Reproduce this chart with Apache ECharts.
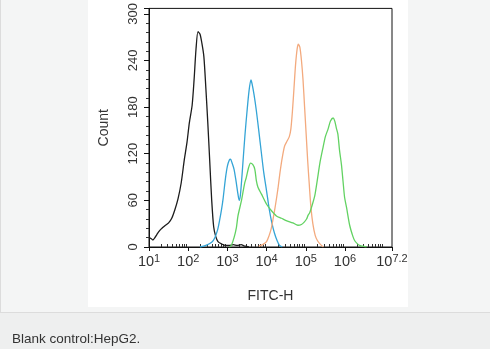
<!DOCTYPE html>
<html>
<head>
<meta charset="utf-8">
<script src="https://cdn.jsdelivr.net/npm/echarts@6/dist/echarts.min.js"></script>
<style>
html,body{margin:0;padding:0;background:#f4f5f5;}
#chart{width:490px;height:349px;}
</style>
</head>
<body>
<div id="chart"></div>
<script>
// x values are log10(FITC-H), y values are counts
const blackCurve = [[1.0,12],[1.05,11],[1.1,9],[1.15,12],[1.2,16],[1.27,21],[1.35,25],[1.42,28],[1.5,31],[1.58,37],[1.66,48],[1.74,62],[1.82,82],[1.9,112],[1.97,135],[2.03,160],[2.1,182],[2.15,215],[2.2,255],[2.25,277],[2.3,274],[2.35,262],[2.4,245],[2.45,205],[2.5,160],[2.55,110],[2.6,60],[2.65,26],[2.7,14],[2.76,7],[2.85,4],[2.95,2],[3.05,2],[3.15,3],[3.25,2],[3.35,3],[3.45,1],[3.55,0]];
const blueCurve = [[2.3,0],[2.45,2],[2.6,6],[2.68,12],[2.75,22],[2.8,34],[2.85,48],[2.89,62],[2.95,88],[3.0,104],[3.05,112],[3.08,113],[3.12,108],[3.17,100],[3.22,85],[3.27,68],[3.3,60],[3.33,66],[3.37,90],[3.4,111],[3.45,145],[3.5,174],[3.55,200],[3.6,215],[3.63,210],[3.68,196],[3.74,175],[3.8,150],[3.87,120],[3.93,95],[4.0,72],[4.07,48],[4.13,32],[4.2,18],[4.27,8],[4.33,2],[4.4,0]];
const orangeCurve = [[3.8,1],[3.9,3],[4.0,7],[4.06,14],[4.12,24],[4.18,40],[4.23,55],[4.29,75],[4.34,95],[4.4,115],[4.46,130],[4.52,136],[4.58,142],[4.62,152],[4.66,175],[4.7,205],[4.74,235],[4.78,255],[4.81,261],[4.85,257],[4.89,240],[4.93,215],[4.97,180],[5.01,145],[5.05,110],[5.09,80],[5.13,52],[5.18,30],[5.24,15],[5.3,8],[5.38,3],[5.45,0]];
const greenCurve = [[3.05,0],[3.1,2],[3.17,12],[3.23,25],[3.27,40],[3.36,60],[3.44,82],[3.48,89],[3.54,102],[3.59,108],[3.65,106],[3.7,100],[3.74,85],[3.78,77],[3.87,68],[4.0,55],[4.12,47],[4.25,40],[4.38,37],[4.5,34],[4.67,31],[4.8,28],[4.89,29],[4.96,32],[5.02,36],[5.06,41],[5.1,44],[5.17,55],[5.23,66],[5.3,88],[5.36,108],[5.44,128],[5.5,142],[5.57,152],[5.63,162],[5.7,166],[5.74,162],[5.78,153],[5.82,145],[5.86,125],[5.91,106],[5.95,85],[5.99,64],[6.04,51],[6.12,28],[6.2,14],[6.25,8],[6.3,5],[6.37,2],[6.45,1],[6.55,0]];
const xMajorTicks = [1,2,3,4,5,6,7.2];
const xTickLabels = ['1','2','3','4','5','6','7.2'];
const yTicks = [0,60,120,180,240,300];

const decades = [1,2,3,4,5,6,7];
const xMinorTicks = [];
decades.forEach(d => { for (let k = 2; k <= 9; k++) { const v = d + Math.log10(k); if (v < 7.2) xMinorTicks.push(v); } });

const chart = echarts.init(document.getElementById('chart'), null, {renderer:'canvas'});
const font = 'Liberation Sans, Arial, sans-serif';
const mk = (data, color) => ({
  type:'line', data: data, showSymbol:false, smooth:0.25,
  lineStyle:{color:color, width:1.3}, xAxisIndex:0, yAxisIndex:0, animation:false, silent:true
});
chart.setOption({
  animation:false,
  backgroundColor:'#f4f5f5',
  graphic:[
    {type:'rect', shape:{x:88,y:0,width:320,height:307}, style:{fill:'#ffffff'}, z:-10},
    {type:'rect', shape:{x:0,y:312.5,width:490,height:37}, style:{fill:'#eeefef'}, z:-10},
    {type:'line', shape:{x1:0,y1:312.5,x2:490,y2:312.5}, style:{stroke:'#dcdcdc',lineWidth:1}, z:-9},
    {type:'line', shape:{x1:0.5,y1:0,x2:0.5,y2:312.5}, style:{stroke:'#dcdcdc',lineWidth:1}, z:-9},
    {type:'text', x:12, y:339, style:{text:'Blank control:HepG2.', fill:'#333', font:'13.5px ' + font, verticalAlign:'middle'}}
  ],
  grid:{left:149, right:98, top:6, bottom:102, show:true, borderColor:'#111', borderWidth:1, backgroundColor:'transparent'},
  xAxis:[{
    type:'value', min:1, max:7.2,
    name:'FITC-H', nameLocation:'middle', nameGap:42,
    nameTextStyle:{fontFamily:font, fontSize:14, color:'#333'},
    axisLine:{show:true, lineStyle:{color:'#111'}},
    axisTick:{show:true, inside:false, length:4, customValues:xMajorTicks, lineStyle:{color:'#111'}},
    axisLabel:{show:true, margin:6, customValues:xMajorTicks,
      formatter:function(v){ const i = xMajorTicks.indexOf(v); const e = i>=0 ? xTickLabels[i] : ''; return '{b|10}{s|' + e + '}'; },
      rich:{b:{fontFamily:font, fontSize:14.5, color:'#333', verticalAlign:'bottom'}, s:{fontFamily:font, fontSize:11, color:'#333', verticalAlign:'top', padding:[0,0,5,0]}}},
    splitLine:{show:false}
  },{
    type:'value', min:1, max:7.2, position:'bottom',
    axisLine:{show:false},
    axisTick:{show:true, inside:true, length:3, customValues:xMinorTicks, lineStyle:{color:'#333'}},
    axisLabel:{show:false}, splitLine:{show:false}
  }],
  yAxis:{
    type:'value', min:0, max:307, interval:60,
    name:'Count', nameLocation:'middle', nameGap:38, nameRotate:90,
    nameTextStyle:{fontFamily:font, fontSize:14, color:'#333'},
    axisLine:{show:true, lineStyle:{color:'#111'}},
    axisTick:{show:true, length:5, lineStyle:{color:'#111'}},
    minorTick:{show:true, splitNumber:5, length:3, lineStyle:{color:'#333'}},
    axisLabel:{rotate:90, margin:9, fontFamily:font, fontSize:13, color:'#333',
      formatter:function(v){ return yTicks.indexOf(v) >= 0 ? String(v) : ''; }},
    splitLine:{show:false}, minorSplitLine:{show:false}
  },
  series:[
    mk(blackCurve,'#1c1c1c'),
    mk(blueCurve,'#34a4d6'),
    mk(orangeCurve,'#f3aa7e'),
    mk(greenCurve,'#62d262')
  ]
});
</script>
</body>
</html>
